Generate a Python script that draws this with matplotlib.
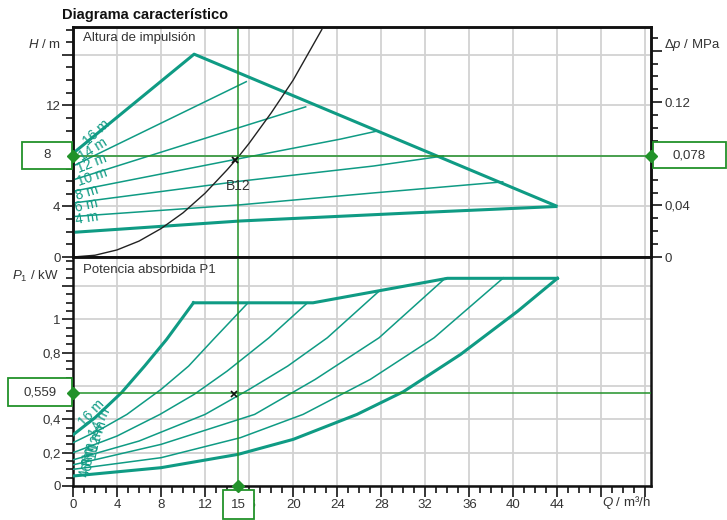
import matplotlib
matplotlib.use('Agg')
import matplotlib.pyplot as plt
from matplotlib.patches import Rectangle
from matplotlib.lines import Line2D
from matplotlib.ticker import MultipleLocator, FixedLocator, FixedFormatter

plt.rcParams['font.family'] = ['Liberation Sans', 'DejaVu Sans']
plt.rcParams['mathtext.fontset'] = 'custom'
plt.rcParams['mathtext.rm'] = 'Liberation Sans'
plt.rcParams['mathtext.it'] = 'Liberation Sans:italic'

# speed curve names
speeds = ['16 m', '14 m', '12 m', '10 m', '8 m', '6 m', '4 m']

# head H (m) over flow Q (m3/h)
q_h16 = [0, 11.0, 44.0]
h_16 = [8.2, 16.05, 4.0]
q_h14 = [0, 15.8]
h_14 = [7.2, 13.9]
q_h12 = [0, 15.2, 21.2]
h_12 = [6.1, 10.27, 11.9]
q_h10 = [0, 15.2, 24.3, 27.8]
h_10 = [5.2, 7.8, 9.33, 10.0]
q_h8 = [0, 15.2, 27.3, 33.7]
h_8 = [4.27, 6.0, 7.2, 8.0]
q_h6 = [0, 15.2, 27.3, 39.1]
h_6 = [3.2, 4.13, 5.07, 5.95]
q_h4 = [0, 15.2, 30.3, 44.0]
h_4 = [1.95, 2.85, 3.47, 4.0]

# system curve B12
q_sys = [0, 2, 4, 6, 8, 10, 12, 14, 15, 16, 18, 20, 22.6]
h_sys = [0, 0.14, 0.56, 1.26, 2.25, 3.5, 5.05, 6.9, 7.9, 9.0, 11.4, 14.0, 18.0]

# power P1 (kW) over flow Q
pq_16 = [0, 2, 4.4, 6.5, 8.5, 10.94]
p_16 = [0.307, 0.41, 0.56, 0.72, 0.88, 1.10]
pq_14 = [0, 2.5, 4.9, 8, 10.5, 12.75, 15.9]
p_14 = [0.26, 0.34, 0.43, 0.58, 0.72, 0.88, 1.10]
pq_12 = [0, 4, 7.9, 11, 14, 17.8, 21.3]
p_12 = [0.20, 0.30, 0.43, 0.55, 0.69, 0.89, 1.10]
pq_10 = [0, 6, 12, 16, 19.5, 23.1, 27.8]
p_10 = [0.157, 0.27, 0.43, 0.58, 0.72, 0.89, 1.17]
pq_8 = [0, 8, 16.5, 22, 27.8, 33.8]
p_8 = [0.127, 0.25, 0.43, 0.64, 0.89, 1.247]
pq_6 = [0, 8, 15.2, 20.9, 27, 32.8, 39.1]
p_6 = [0.10, 0.17, 0.29, 0.43, 0.64, 0.89, 1.25]
pq_4 = [0, 8, 15, 20, 25.8, 30, 35.2, 40.4, 44]
p_4 = [0.06, 0.11, 0.19, 0.28, 0.43, 0.566, 0.79, 1.05, 1.247]
pq_top = [10.94, 21.8, 34.0, 44.0]
p_top = [1.10, 1.10, 1.247, 1.247]

# operating point
q_op = 15
h_op = 8
p_op = 0.559
dp_op = 0.078

teal = '#0f9b84'
green = '#22922a'
txt = '#333333'
W, H = 727, 520

def fx(px):
    return px / W

def fy(py):
    return 1 - py / H

fig = plt.figure(figsize=(W / 100, H / 100), dpi=100)
ax1 = fig.add_axes([fx(73), fy(257), fx(578), 230 / H])
ax2 = fig.add_axes([fx(73), fy(486), fx(578), 229 / H])
XMAX, HMAX, PMAX = 52.5, 18.2, 1.375

# ---- top panel: head
head = [(q_h16, h_16), (q_h14, h_14), (q_h12, h_12), (q_h10, h_10),
        (q_h8, h_8), (q_h6, h_6), (q_h4, h_4)]
for i, (q, h) in enumerate(head):
    lw = 2.2 if i in (0, 6) else 1.1
    ax1.plot(q, h, color=teal, lw=lw, zorder=3, solid_capstyle='butt')
ax1.plot(q_sys, h_sys, color='#222222', lw=1.0, zorder=4)

top_lab = [(2.1, 9.86, 43), (1.85, 8.5, 32), (1.75, 7.4, 22), (1.75, 6.3, 19),
           (1.25, 5.07, 17), (1.25, 4.05, 13), (1.3, 3.07, 9)]
for name, (x, y, r) in zip(speeds, top_lab):
    ax1.text(x, y, name, color=teal, fontsize=10, rotation=r, ha='center',
             va='center', rotation_mode='anchor', zorder=5)

ax1.set_xlim(0, XMAX)
ax1.set_ylim(0, HMAX)
ax1.xaxis.set_major_locator(MultipleLocator(4))
ax1.yaxis.set_major_locator(FixedLocator([0, 4, 8, 12, 16]))
ax1.yaxis.set_major_formatter(FixedFormatter(['0', '4', '', '12', '']))
ax1.yaxis.set_minor_locator(MultipleLocator(1))
ax1.grid(True, which='major', color='#d2d2d2', lw=1.3, zorder=0)
ax1.tick_params(axis='x', which='both', bottom=False, labelbottom=False)
ax1.tick_params(axis='y', which='major', length=8, width=1.1, pad=1,
                labelsize=9.5, labelcolor=txt)
ax1.tick_params(axis='y', which='minor', length=5, width=1.1)
ax1.text(0.017, 0.952, 'Altura de impulsión', transform=ax1.transAxes,
         fontsize=9.5, color=txt, va='center', ha='left')
ax1.plot(14.7, 7.7, marker='x', color='#111111', ms=5, mew=1.3, zorder=6)
ax1.text(15.0, 5.6, 'B12', fontsize=10, color=txt, ha='center', va='center', zorder=6)

ax1r = ax1.twinx()
ax1r.set_ylim(0, HMAX * 0.0098)
ax1r.yaxis.set_major_locator(FixedLocator([0, 0.04, 0.08, 0.12, 0.16]))
ax1r.yaxis.set_major_formatter(FixedFormatter(['0', '0,04', '', '0.12', '']))
ax1r.yaxis.set_minor_locator(MultipleLocator(0.01))
ax1r.tick_params(axis='y', which='major', length=8, width=1.1, pad=2,
                 labelsize=9.5, labelcolor=txt)
ax1r.tick_params(axis='y', which='minor', length=5, width=1.1)

# axis titles sitting just above the top ticks
fig.text(fx(61), fy(45), '$H$ / m', fontsize=9.5, color=txt, ha='right', va='center')
fig.text(fx(664), fy(45), r'$\Delta p$ / MPa', fontsize=9.5, color=txt, ha='left', va='center')
fig.text(fx(58), fy(276), '$P_1$ / kW', fontsize=9.5, color=txt, ha='right', va='center')

# ---- bottom panel: power
power = [(pq_16, p_16), (pq_14, p_14), (pq_12, p_12), (pq_10, p_10),
         (pq_8, p_8), (pq_6, p_6), (pq_4, p_4)]
for i, (q, p) in enumerate(power):
    lw = 2.2 if i in (0, 6) else 1.1
    ax2.plot(q, p, color=teal, lw=lw, zorder=3)
ax2.plot(pq_top, p_top, color=teal, lw=2.2, zorder=3)

bot_lab = [(1.7, 0.44, 47), (2.45, 0.38, 62), (2.3, 0.30, 72), (2.0, 0.25, 78),
           (1.55, 0.19, 82), (1.4, 0.16, 86), (1.2, 0.125, 86)]
for name, (x, y, r) in zip(speeds, bot_lab):
    ax2.text(x, y, name, color=teal, fontsize=10, rotation=r, ha='center',
             va='center', rotation_mode='anchor', zorder=5)

ax2.set_xlim(0, XMAX)
ax2.set_ylim(0, PMAX)
ax2.xaxis.set_major_locator(FixedLocator(list(range(0, 53, 4))))
ax2.xaxis.set_major_formatter(FixedFormatter([str(v) for v in range(0, 48, 4)] + ['', '']))
ax2.xaxis.set_minor_locator(FixedLocator(list(range(0, 53))))
ax2.yaxis.set_major_locator(FixedLocator([0, 0.2, 0.4, 0.6, 0.8, 1.0, 1.2]))
ax2.yaxis.set_major_formatter(FixedFormatter(['0', '0,2', '0,4', '', '0,8', '1', '']))
ax2.yaxis.set_minor_locator(MultipleLocator(0.05))
ax2.grid(True, which='major', color='#d2d2d2', lw=1.3, zorder=0)
ax2.tick_params(which='major', length=8, width=1.1, pad=1, labelsize=9.5, labelcolor=txt)
ax2.tick_params(which='minor', length=5, width=1.1)
ax2.text(1.0, -0.07, '$Q$ / m³/h', transform=ax2.transAxes, fontsize=9.5,
         color=txt, ha='right', va='center')
ax2.text(0.017, 0.943, 'Potencia absorbida P1', transform=ax2.transAxes,
         fontsize=9.5, color=txt, va='center', ha='left')
ax2.plot(14.6, 0.55, marker='x', color='#111111', ms=4, mew=1.2, zorder=6)

for a in (ax1, ax1r, ax2):
    for s in a.spines.values():
        s.set_linewidth(1.8)
        s.set_color('#111111')

# ---- operating point crosshair
ax1.axvline(q_op, color=green, lw=1.1, zorder=4)
ax2.axvline(q_op, color=green, lw=1.1, zorder=4)
ax1.axhline(h_op, color=green, lw=1.1, zorder=4)
ax2.axhline(p_op, color=green, lw=1.1, zorder=4)

def box(x0, y0, x1, y1, label):
    fig.add_artist(Rectangle((fx(x0), fy(y1)), fx(x1 - x0), (y1 - y0) / H,
                             transform=fig.transFigure, facecolor='white',
                             edgecolor=green, lw=1.3, zorder=10))
    fig.text(fx((x0 + x1) / 2), fy((y0 + y1) / 2), label, fontsize=9.5,
             color=txt, ha='center', va='center', zorder=11)

box(21.7, 141.7, 71.7, 169.3, str(h_op))
box(653, 141.7, 725.5, 168.3, str(dp_op).replace('.', ','))
box(8.3, 378.3, 71.7, 406, str(p_op).replace('.', ','))
box(222.7, 490, 254, 519, str(q_op))
fig.add_artist(Line2D([fx(238), fx(238)], [fy(486), fy(490)],
                      transform=fig.transFigure, color=green, lw=1.1, zorder=9))

# diamonds drawn above the boxes
for a, xs, ys in ((ax1, [0, XMAX], [h_op, h_op]), (ax2, [0], [p_op]), (ax2, [q_op], [0])):
    fig.add_artist(Line2D(xs, ys, transform=a.transData, ls='none', marker='D',
                          color=green, ms=6, zorder=12))

fig.text(fx(62), fy(15), 'Diagrama característico', fontsize=10.5,
         fontweight='bold', color='#111111', ha='left', va='center')

fig.savefig('out.png', dpi=100)
